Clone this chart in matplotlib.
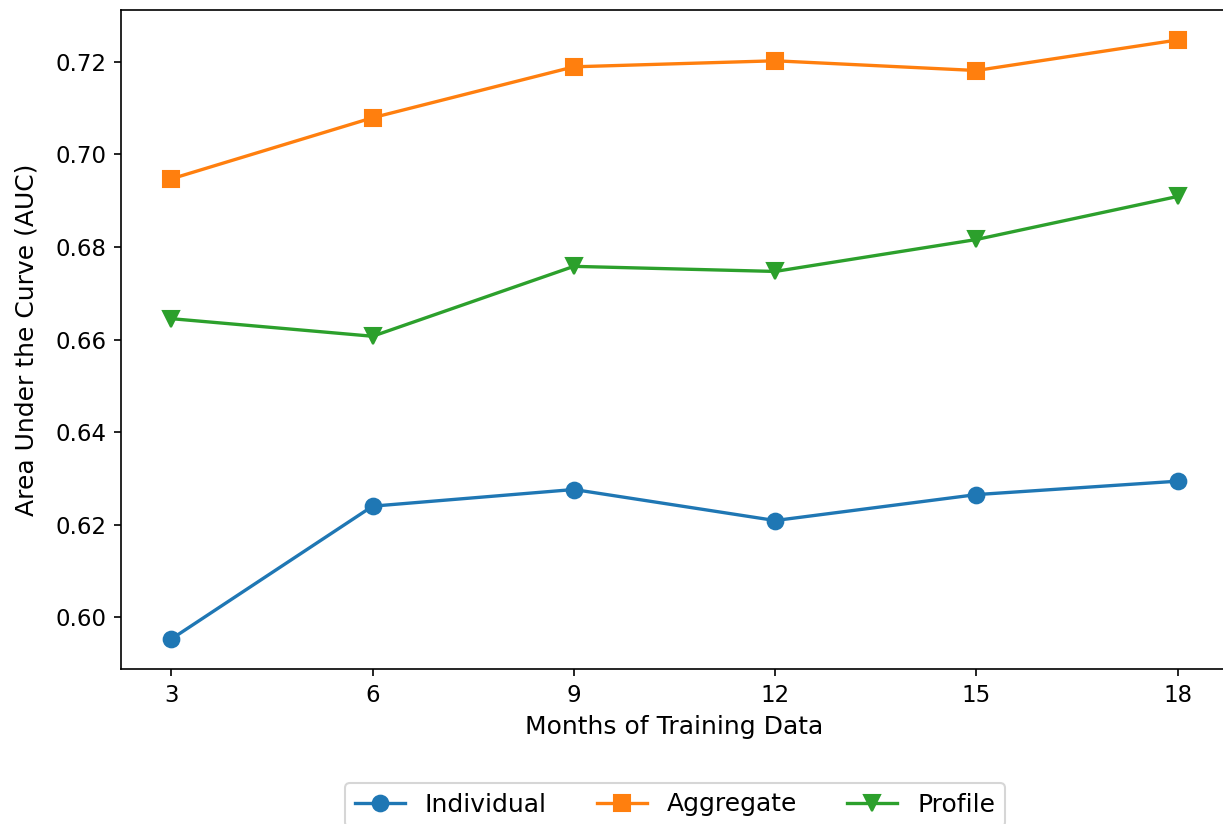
import matplotlib
matplotlib.use("Agg")
import matplotlib.pyplot as plt

months = [3, 6, 9, 12, 15, 18]
individual = [0.5953, 0.6240, 0.6276, 0.6209, 0.6265, 0.6294]
aggregate = [0.6947, 0.7079, 0.7189, 0.7202, 0.7181, 0.7247]
profile = [0.6645, 0.6607, 0.6758, 0.6747, 0.6816, 0.6909]

fig = plt.figure(figsize=(1223 / 150, 824 / 150), dpi=150)
# axes runs a little past the right edge of the figure, as in the original crop
ax = fig.add_axes([121 / 1223, 1 - 669 / 824, 1107 / 1223, 659 / 824])

ax.plot(months, individual, marker="o", markersize=7.5, linewidth=1.6, label="Individual")
ax.plot(months, aggregate, marker="s", markersize=7.5, linewidth=1.6, label="Aggregate")
ax.plot(months, profile, marker="v", markersize=7.5, linewidth=1.6, label="Profile")

ax.set_xticks(months)
ax.tick_params(labelsize=11)
ax.set_xlabel("Months of Training Data", fontsize=12)
ax.set_ylabel("Area Under the Curve (AUC)", fontsize=12, labelpad=8)

fig.legend(loc="upper center", bbox_to_anchor=(675 / 1223, 1 - 770 / 824),
           ncol=3, fontsize=12)

fig.savefig("out.png", dpi=150)
